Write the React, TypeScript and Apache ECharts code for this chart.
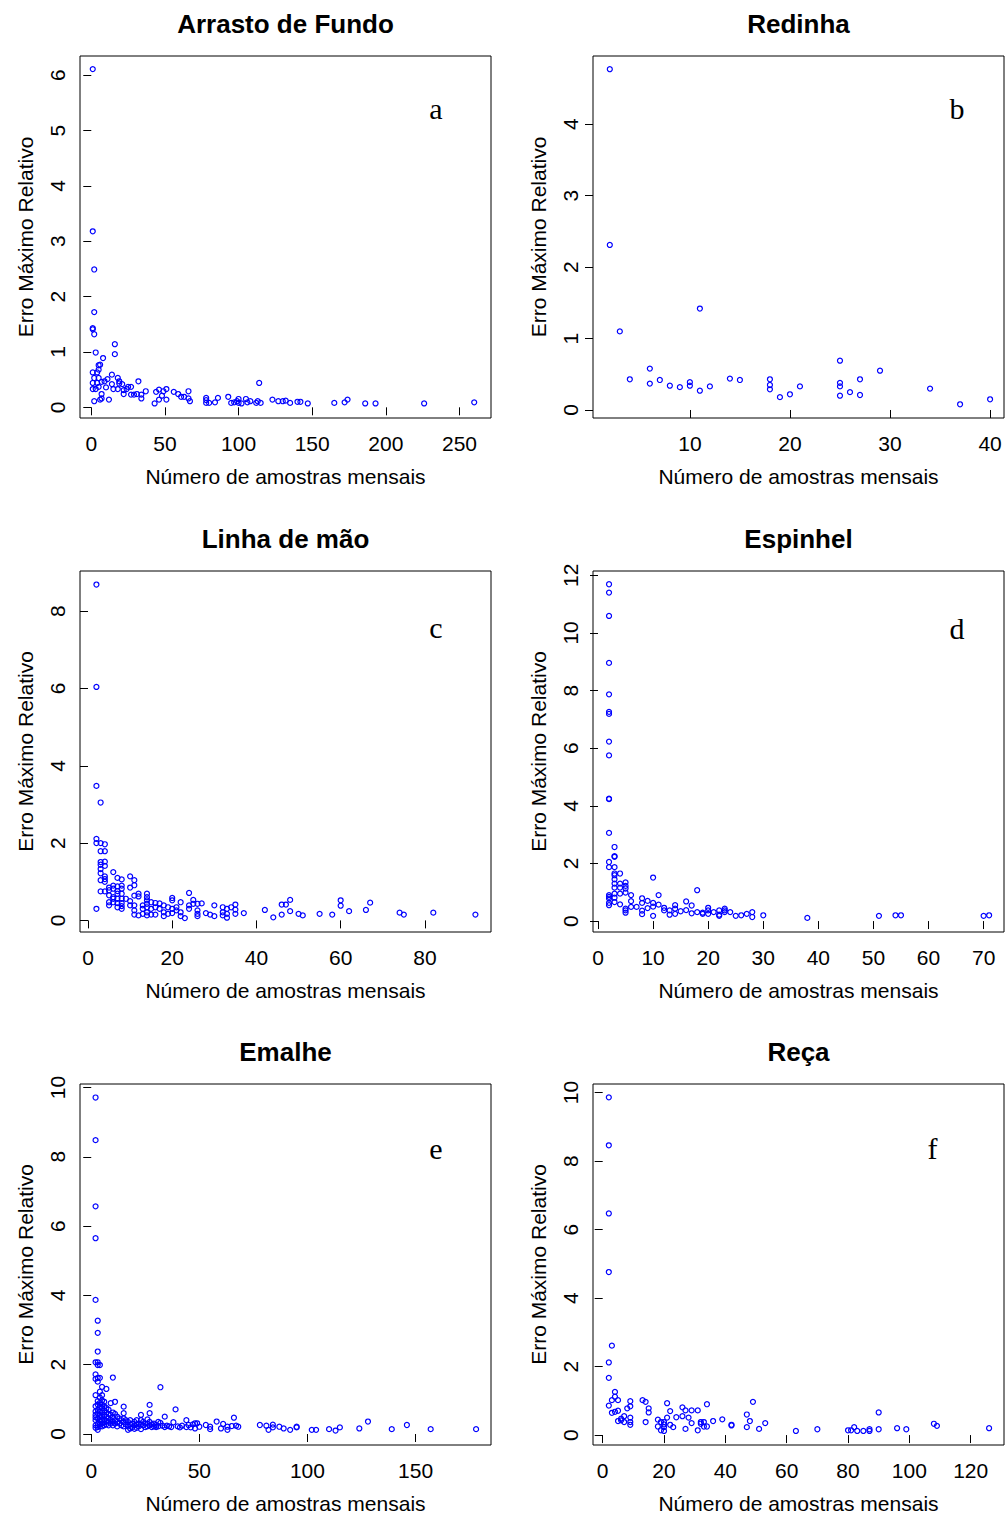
import React, { useEffect, useRef } from "react";
import * as echarts from "echarts";

// ---------- data (x = Número de amostras mensais, y = Erro Máximo Relativo) ----------
const panelTitles = ["Arrasto de Fundo", "Redinha", "Linha de mão", "Espinhel", "Emalhe", "Reça"];
const panelLetters = ["a", "b", "c", "d", "e", "f"];
const xAxisTitle = "Número de amostras mensais";
const yAxisTitle = "Erro Máximo Relativo";

const xTicksA = [0, 50, 100, 150, 200, 250];
const yTicksA = [0, 1, 2, 3, 4, 5, 6];
const xTicksB = [10, 20, 30, 40];
const yTicksB = [0, 1, 2, 3, 4];
const xTicksC = [0, 20, 40, 60, 80];
const yTicksC = [0, 2, 4, 6, 8];
const xTicksD = [0, 10, 20, 30, 40, 50, 60, 70];
const yTicksD = [0, 2, 4, 6, 8, 10, 12];
const xTicksE = [0, 50, 100, 150];
const yTicksE = [0, 2, 4, 6, 8, 10];
const xTicksF = [0, 20, 40, 60, 80, 100, 120];
const yTicksF = [0, 2, 4, 6, 8, 10];

const arrastoFundo: number[][] = [
  [1, 6.11], [1, 3.18], [2, 2.49], [2, 1.72], [1, 1.43], [1, 1.41], [2, 1.32], [16, 1.14], [16, 0.96], [3, 0.99],
  [8, 0.89], [6, 0.77], [5, 0.76], [5, 0.68], [4, 0.63], [1, 0.63], [14, 0.59], [2, 0.53], [5, 0.53], [9, 0.47],
  [11, 0.51], [18, 0.53], [19, 0.47], [19, 0.43], [21, 0.42], [1, 0.44], [4, 0.44], [7, 0.46], [14, 0.42], [27, 0.37],
  [25, 0.37], [32, 0.47], [3, 0.33], [1, 0.33], [5, 0.37], [10, 0.36], [15, 0.33], [18, 0.33], [22, 0.31], [24, 0.33],
  [7, 0.24], [22, 0.24], [27, 0.23], [29, 0.23], [31, 0.24], [34, 0.23], [37, 0.29], [34, 0.16], [2, 0.11], [6, 0.14],
  [12, 0.14], [7, 0.16], [44, 0.28], [46, 0.32], [49, 0.29], [51, 0.33], [48, 0.21], [46, 0.14], [51, 0.14], [43, 0.07],
  [56, 0.28], [59, 0.24], [61, 0.19], [63, 0.19], [66, 0.29], [66, 0.16], [67, 0.11], [78, 0.17], [78, 0.13], [78, 0.08],
  [80, 0.08], [84, 0.09], [86, 0.17], [93, 0.19], [95, 0.08], [97, 0.09], [99, 0.11], [100, 0.15], [100, 0.08], [102, 0.07],
  [105, 0.15], [106, 0.09], [108, 0.11], [112, 0.08], [113, 0.11], [115, 0.08], [114, 0.44], [123, 0.14], [127, 0.11], [130, 0.11],
  [132, 0.12], [135, 0.08], [140, 0.10], [142, 0.10], [147, 0.07], [165, 0.08], [172, 0.09], [174, 0.14], [186, 0.07], [193, 0.07],
  [226, 0.07], [260, 0.09],
];

const redinha: number[][] = [
  [2, 4.77], [2, 2.31], [3, 1.1], [11, 1.42], [4, 0.43], [6, 0.58], [6, 0.37], [7, 0.42], [8, 0.34], [9, 0.32],
  [10, 0.39], [10, 0.34], [11, 0.27], [12, 0.33], [14, 0.44], [15, 0.42], [18, 0.43], [18, 0.35], [18, 0.29], [19, 0.18],
  [20, 0.22], [21, 0.33], [25, 0.69], [25, 0.38], [25, 0.33], [25, 0.2], [26, 0.25], [27, 0.43], [27, 0.21], [29, 0.55],
  [34, 0.3], [37, 0.08], [40, 0.15],
];

const linhaDeMao: number[][] = [
  [2, 8.69], [2, 6.04], [2, 3.48], [3, 3.05], [2, 2.11], [2, 2.0], [3, 2.0], [4, 1.97], [3, 1.79], [4, 1.79],
  [3, 1.51], [4, 1.52], [3, 1.44], [4, 1.41], [3, 1.33], [3, 1.22], [4, 1.14], [3, 1.04], [4, 1.07], [4, 1.0],
  [3, 0.75], [4, 0.75], [2, 0.3], [6, 1.25], [7, 1.1], [8, 1.06], [10, 1.14], [11, 1.04], [11, 0.91], [10, 0.85],
  [5, 0.85], [5, 0.78], [6, 0.9], [6, 0.82], [7, 0.88], [8, 0.9], [8, 0.82], [7, 0.76], [5, 0.65], [5, 0.47],
  [5, 0.39], [6, 0.56], [6, 0.47], [6, 0.6], [7, 0.69], [7, 0.56], [7, 0.45], [7, 0.34], [8, 0.69], [8, 0.56],
  [8, 0.45], [8, 0.37], [8, 0.3], [9, 0.56], [10, 0.5], [10, 0.39], [11, 0.64], [11, 0.39], [11, 0.26], [11, 0.15],
  [12, 0.69], [12, 0.62], [12, 0.13], [13, 0.39], [13, 0.3], [13, 0.17], [14, 0.69], [14, 0.6], [14, 0.52], [14, 0.43],
  [14, 0.34], [14, 0.21], [14, 0.13], [15, 0.47], [15, 0.3], [15, 0.15], [16, 0.45], [16, 0.34], [16, 0.15], [17, 0.44],
  [17, 0.3], [18, 0.39], [18, 0.21], [18, 0.11], [19, 0.34], [19, 0.17], [20, 0.58], [20, 0.52], [20, 0.3], [20, 0.19],
  [21, 0.34], [21, 0.26], [22, 0.47], [22, 0.21], [22, 0.11], [23, 0.06], [24, 0.71], [24, 0.39], [24, 0.3], [25, 0.53],
  [25, 0.43], [26, 0.43], [26, 0.26], [26, 0.17], [26, 0.11], [27, 0.44], [28, 0.19], [29, 0.15], [30, 0.39], [30, 0.11],
  [32, 0.34], [32, 0.21], [32, 0.13], [33, 0.3], [33, 0.17], [33, 0.07], [34, 0.34], [35, 0.41], [35, 0.28], [35, 0.17],
  [37, 0.19], [42, 0.27], [44, 0.08], [46, 0.41], [46, 0.15], [47, 0.41], [48, 0.53], [48, 0.24], [50, 0.17], [51, 0.13],
  [55, 0.17], [58, 0.15], [60, 0.52], [60, 0.38], [62, 0.24], [66, 0.27], [67, 0.46], [74, 0.2], [75, 0.15], [82, 0.2],
  [92, 0.15],
];

const espinhel: number[][] = [
  [2, 11.69], [2, 11.4], [2, 10.59], [2, 8.96], [2, 7.87], [2, 7.26], [2, 7.19], [2, 6.23], [2, 5.75], [2, 4.25],
  [2, 4.23], [2, 3.06], [3, 2.57], [3, 2.25], [3, 2.23], [2, 2.05], [2, 1.87], [3, 1.87], [3, 1.65], [3, 1.59],
  [3, 1.45], [3, 1.3], [3, 1.16], [3, 0.95], [3, 0.81], [3, 0.66], [4, 1.65], [4, 1.3], [4, 1.16], [4, 0.95],
  [4, 0.58], [5, 1.34], [5, 1.22], [5, 1.13], [5, 0.99], [5, 0.43], [5, 0.37], [5, 0.29], [2, 0.9], [2, 0.84],
  [2, 0.78], [2, 0.63], [2, 0.55], [6, 0.9], [6, 0.69], [6, 0.49], [7, 0.49], [8, 0.79], [8, 0.63], [8, 0.36],
  [8, 0.24], [9, 0.7], [9, 0.45], [10, 1.51], [10, 0.63], [10, 0.5], [10, 0.18], [11, 0.9], [11, 0.57], [12, 0.46],
  [12, 0.37], [13, 0.37], [13, 0.22], [14, 0.55], [14, 0.43], [14, 0.25], [15, 0.34], [16, 0.68], [16, 0.38], [17, 0.54],
  [17, 0.27], [18, 1.07], [18, 0.31], [19, 0.29], [19, 0.25], [20, 0.46], [20, 0.37], [20, 0.25], [21, 0.31], [22, 0.37],
  [22, 0.22], [22, 0.18], [23, 0.43], [23, 0.37], [23, 0.31], [24, 0.31], [25, 0.18], [26, 0.2], [27, 0.25], [28, 0.31],
  [28, 0.14], [30, 0.2], [38, 0.11], [51, 0.18], [54, 0.2], [55, 0.2], [70, 0.18], [71, 0.2],
];

const emalhe: number[][] = [
  [2, 9.71], [2, 8.48], [2, 6.57], [2, 5.65], [2, 3.87], [3, 3.27], [3, 2.92], [3, 2.38], [2, 2.07], [3, 2.07],
  [3, 1.99], [4, 1.99], [2, 1.72], [3, 1.62], [4, 1.62], [2, 1.59], [3, 1.51], [10, 1.63], [32, 1.35], [5, 1.36],
  [7, 1.3], [2, 1.12], [4, 1.22], [4, 1.05], [5, 1.12], [5, 0.97], [6, 0.93], [11, 0.93], [9, 0.89], [15, 0.79],
  [27, 0.84], [39, 0.71], [15, 0.6], [27, 0.6], [34, 0.5], [23, 0.55], [2, 0.48], [38, 0.34], [44, 0.4], [48, 0.31],
  [49, 0.31], [41, 0.19], [46, 0.19], [48, 0.16], [53, 0.26], [55, 0.21], [55, 0.14], [58, 0.36], [60, 0.16], [61, 0.29],
  [63, 0.21], [63, 0.12], [65, 0.23], [66, 0.47], [67, 0.24], [68, 0.21], [78, 0.26], [81, 0.24], [82, 0.12], [84, 0.27],
  [84, 0.19], [87, 0.21], [89, 0.16], [92, 0.12], [95, 0.19], [95, 0.21], [102, 0.12], [104, 0.12], [110, 0.14], [113, 0.1],
  [115, 0.19], [124, 0.16], [128, 0.36], [139, 0.14], [146, 0.26], [157, 0.14], [178, 0.14],
  [2, 0.8], [2, 0.65], [2, 0.55], [2, 0.4], [2, 0.25], [2, 0.18], [3, 0.95], [3, 0.85], [3, 0.7], [3, 0.6],
  [3, 0.45], [3, 0.3], [3, 0.2], [3, 0.12], [4, 0.9], [4, 0.78], [4, 0.66], [4, 0.55], [4, 0.48], [4, 0.38],
  [4, 0.28], [4, 0.22], [5, 0.85], [5, 0.75], [5, 0.62], [5, 0.5], [5, 0.4], [5, 0.3], [5, 0.22], [6, 0.8],
  [6, 0.68], [6, 0.55], [6, 0.42], [6, 0.34], [6, 0.25], [7, 0.75], [7, 0.62], [7, 0.5], [7, 0.38], [7, 0.28],
  [8, 0.7], [8, 0.58], [8, 0.45], [8, 0.35], [8, 0.25], [9, 0.55], [9, 0.4], [9, 0.3], [10, 0.62], [10, 0.48],
  [10, 0.35], [10, 0.25], [11, 0.58], [11, 0.4], [11, 0.3], [12, 0.5], [12, 0.35], [12, 0.22], [13, 0.45], [13, 0.3],
  [14, 0.4], [14, 0.25], [15, 0.45], [15, 0.35], [15, 0.22], [16, 0.4], [16, 0.28], [17, 0.35], [17, 0.22], [17, 0.12],
  [18, 0.4], [18, 0.28], [18, 0.16], [19, 0.3], [19, 0.2], [20, 0.35], [20, 0.25], [20, 0.15], [21, 0.4], [21, 0.28],
  [21, 0.18], [22, 0.3], [22, 0.22], [23, 0.4], [23, 0.28], [23, 0.14], [24, 0.35], [24, 0.25], [25, 0.3], [25, 0.2],
  [26, 0.42], [26, 0.3], [26, 0.22], [27, 0.35], [27, 0.25], [28, 0.28], [28, 0.2], [29, 0.3], [29, 0.22], [30, 0.26],
  [30, 0.2], [31, 0.35], [31, 0.22], [32, 0.32], [33, 0.24], [34, 0.2], [35, 0.24], [36, 0.22], [37, 0.2], [40, 0.22],
  [42, 0.24], [44, 0.2], [45, 0.26], [47, 0.28], [50, 0.21],
];

const reca: number[][] = [
  [2, 9.86], [2, 8.46], [2, 6.47], [2, 4.76], [3, 2.61], [2, 2.12], [2, 1.67], [4, 1.26], [4, 1.12], [3, 1.02],
  [5, 1.02], [2, 0.86], [9, 0.99], [9, 0.84], [8, 0.78], [13, 1.02], [14, 0.97], [15, 0.78], [15, 0.66], [3, 0.65],
  [4, 0.68], [5, 0.71], [7, 0.55], [6, 0.48], [6, 0.43], [5, 0.41], [7, 0.38], [9, 0.51], [9, 0.38], [9, 0.3],
  [14, 0.38], [18, 0.45], [18, 0.25], [19, 0.38], [19, 0.14], [20, 0.38], [20, 0.31], [20, 0.23], [20, 0.12], [21, 0.93],
  [21, 0.51], [22, 0.7], [22, 0.3], [23, 0.23], [24, 0.52], [26, 0.81], [26, 0.55], [27, 0.72], [27, 0.18], [28, 0.51],
  [29, 0.72], [29, 0.35], [31, 0.72], [31, 0.14], [32, 0.38], [32, 0.33], [33, 0.38], [33, 0.25], [34, 0.9], [34, 0.25],
  [36, 0.41], [39, 0.46], [42, 0.3], [42, 0.28], [47, 0.6], [47, 0.23], [48, 0.41], [49, 0.97], [51, 0.18], [53, 0.35],
  [63, 0.12], [70, 0.17], [80, 0.14], [81, 0.14], [82, 0.23], [83, 0.12], [85, 0.12], [87, 0.17], [87, 0.12], [90, 0.66],
  [90, 0.17], [96, 0.2], [99, 0.17], [108, 0.33], [109, 0.27], [126, 0.2],
];

const panelData = [arrastoFundo, redinha, linhaDeMao, espinhel, emalhe, reca];
const panelXTicks = [xTicksA, xTicksB, xTicksC, xTicksD, xTicksE, xTicksF];
const panelYTicks = [yTicksA, yTicksB, yTicksC, yTicksD, yTicksE, yTicksF];

// ---------- layout ----------
const SANS = "'Liberation Sans', Arial, Helvetica, sans-serif";
const SERIF = "'Liberation Serif', 'Times New Roman', serif";
const boxes = [
  { left: 80, top: 56, width: 411, height: 362 },
  { left: 593, top: 56, width: 411, height: 362 },
  { left: 80, top: 571, width: 411, height: 361 },
  { left: 593, top: 571, width: 411, height: 361 },
  { left: 80, top: 1084, width: 411, height: 361 },
  { left: 593, top: 1084, width: 411, height: 361 },
];
const xRanges = [
  [-7.66, 271.4], [0.32, 41.39], [-1.9, 95.7], [-0.91, 73.7], [-5.2, 184.9], [-3.16, 130.86],
];
const yRanges = [
  [-0.193, 6.347], [-0.112, 4.955], [-0.3, 9.04], [-0.38, 12.15], [-0.317, 10.1], [-0.29, 10.25],
];
const letterPos = [
  [436, 108], [957, 108], [436, 627.5], [957, 628], [436, 1148], [932.5, 1148],
];

export default function App() {
  const ref = useRef<HTMLDivElement>(null);
  useEffect(() => {
    if (!ref.current) return;
    const chart = echarts.init(ref.current, null, { renderer: "svg" });
    const grid = boxes.map((b) => ({
      left: b.left, top: b.top, width: b.width, height: b.height,
      show: true, borderColor: "#000", borderWidth: 1, backgroundColor: "transparent",
    }));
    const xAxis = boxes.map((_, i) => ({
      type: "value", gridIndex: i, min: xRanges[i][0], max: xRanges[i][1],
      axisLine: { show: false }, splitLine: { show: false },
      axisTick: { show: true, inside: false, length: 8, customValues: panelXTicks[i], lineStyle: { color: "#000", width: 1 } },
      axisLabel: { show: true, customValues: panelXTicks[i], margin: 15, fontSize: 21, color: "#000", fontFamily: SANS, hideOverlap: false },
    }));
    const yAxis = boxes.map((_, i) => ({
      type: "value", gridIndex: i, min: yRanges[i][0], max: yRanges[i][1],
      axisLine: { show: false }, splitLine: { show: false },
      axisTick: { show: true, inside: false, length: 8, customValues: panelYTicks[i], lineStyle: { color: "#000", width: 1 } },
      axisLabel: { show: true, rotate: 90, customValues: panelYTicks[i], margin: 12, fontSize: 21, color: "#000", fontFamily: SANS, hideOverlap: false },
    }));
    const series = panelData.map((d, i) => ({
      type: "scatter", xAxisIndex: i, yAxisIndex: i, data: d,
      symbol: "circle", symbolSize: 5,
      itemStyle: { color: "rgba(0,0,0,0)", borderColor: "#0000ff", borderWidth: 1.2, opacity: 1 },
      emphasis: { disabled: true },
    }));
    const graphic: any[] = [];
    boxes.forEach((b, i) => {
      const cx = b.left + b.width / 2;
      const cy = b.top + b.height / 2;
      graphic.push({
        type: "text", x: cx, y: b.top - 32.2,
        style: { text: panelTitles[i], fontSize: 26, fontWeight: "bold", fontFamily: SANS, fill: "#000", align: "center", verticalAlign: "middle" },
      });
      graphic.push({
        type: "text", x: cx, y: b.top + b.height + 58,
        style: { text: xAxisTitle, fontSize: 21, fontFamily: SANS, fill: "#000", align: "center", verticalAlign: "middle" },
      });
      graphic.push({
        type: "text", x: b.left - 54.2, y: cy, rotation: Math.PI / 2,
        style: { text: yAxisTitle, fontSize: 21, fontFamily: SANS, fill: "#000", align: "center", verticalAlign: "middle" },
      });
      graphic.push({
        type: "text", x: letterPos[i][0], y: letterPos[i][1],
        style: { text: panelLetters[i], fontSize: 30, fontFamily: SERIF, fill: "#000", align: "center", verticalAlign: "middle" },
      });
    });
    chart.setOption({
      animation: false,
      backgroundColor: "#fff",
      grid, xAxis, yAxis, series, graphic,
    });
    return () => chart.dispose();
  }, []);
  return <div ref={ref} style={{ position: "absolute", left: 0, top: 0, width: 1006, height: 1516, background: "#fff" }} />;
}
